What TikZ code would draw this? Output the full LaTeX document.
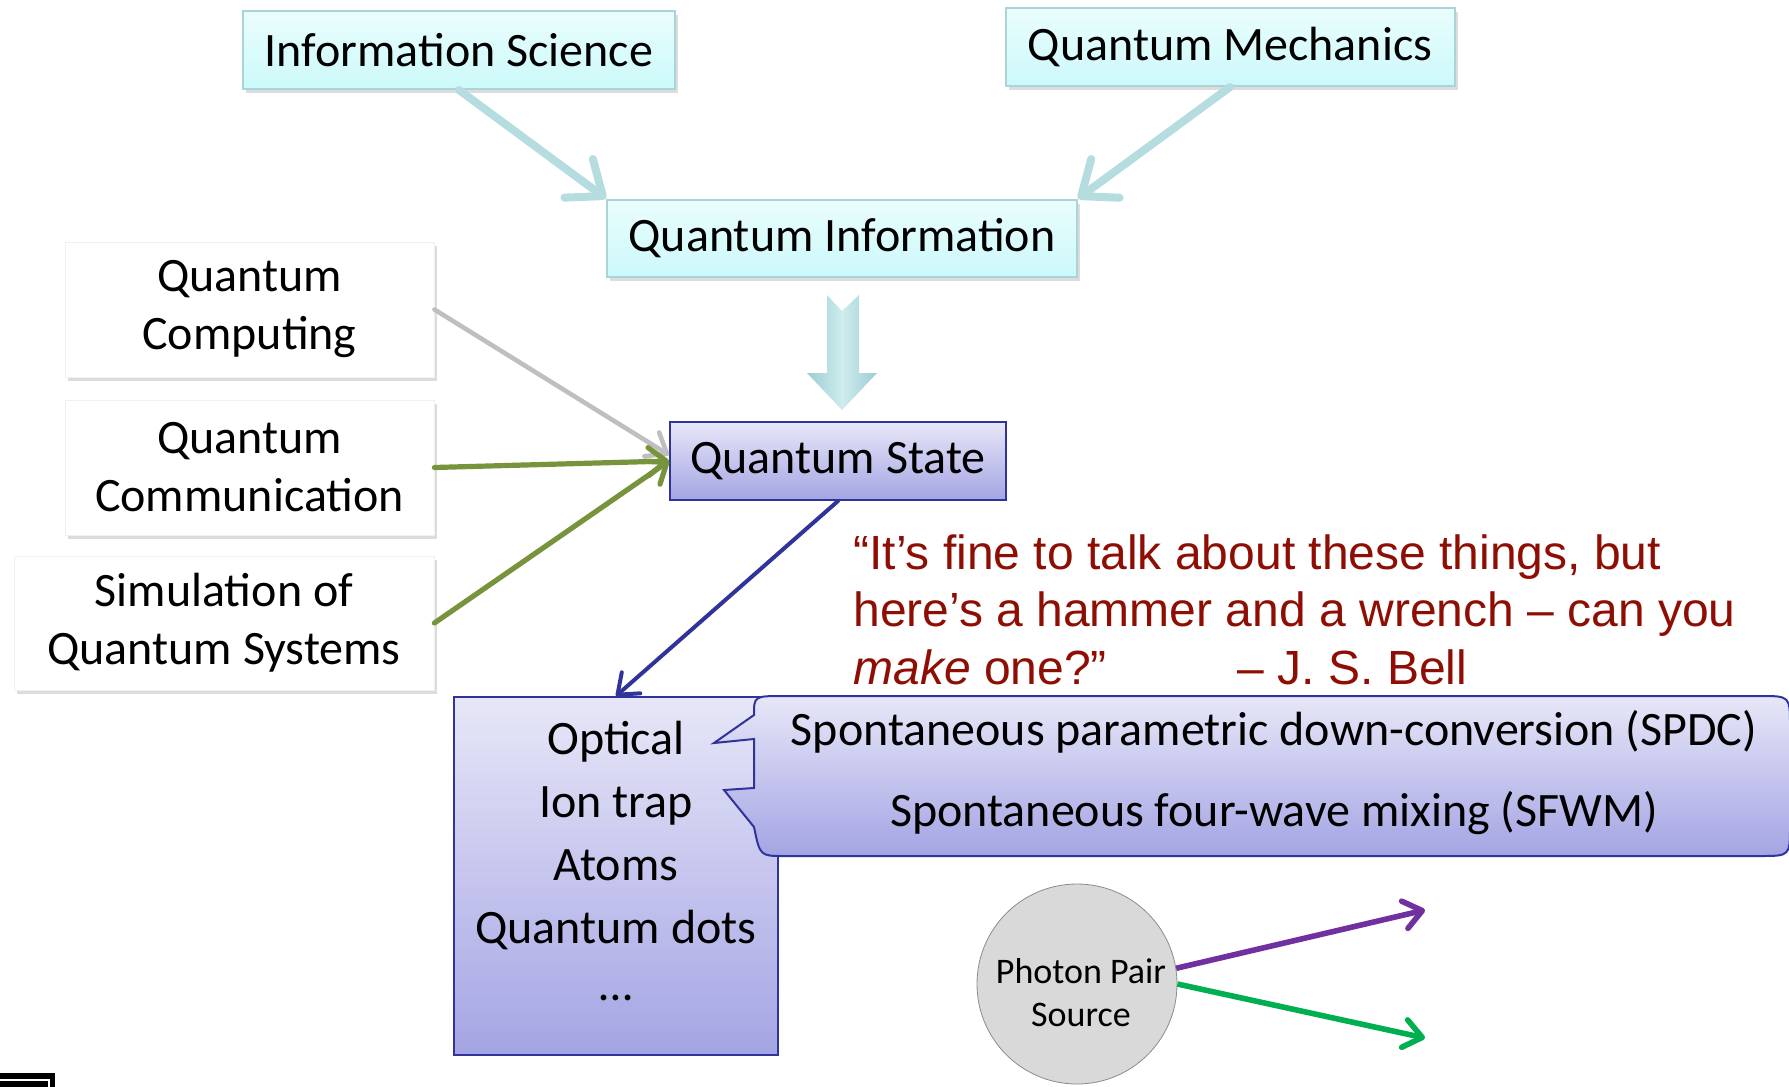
\documentclass[tikz,border=0pt]{standalone}
\usepackage{fontspec}
\setmainfont{Carlito}
\newfontfamily\quotefont{Liberation Sans}
\usepackage{tikz}
\usetikzlibrary{arrows.meta, shadows, positioning}
\definecolor{cyantop}{HTML}{EAFDFD}
\definecolor{cyanbot}{HTML}{CCF9FA}
\definecolor{cyanline}{HTML}{A9D5D9}
\definecolor{tealarrow}{HTML}{B5DCDF}
\definecolor{tealdark}{HTML}{9CCDD2}
\definecolor{teallight}{HTML}{CFECEE}
\definecolor{lavtop}{HTML}{E7E7F8}
\definecolor{lavbot}{HTML}{A4A4E4}
\definecolor{lavline}{HTML}{30339A}
\definecolor{quotered}{HTML}{8E0E04}
\definecolor{grayarrow}{HTML}{BFBFBF}
\definecolor{olivegreen}{HTML}{77933C}
\definecolor{pairpurple}{HTML}{7030A0}
\definecolor{pairgreen}{HTML}{00B050}
\definecolor{sourcegray}{HTML}{D9D9D9}

\begin{document}
\begin{tikzpicture}[x=0.5pt, y=-0.5pt]
		\tikzstyle{boxfont}=[font=\fontsize{24}{29}\selectfont]
		\tikzstyle{cyanbox}=[boxfont, draw=cyanline, line width=1pt, top color=cyantop, bottom color=cyanbot, minimum height=39pt, drop shadow={shadow xshift=1.5pt, shadow yshift=-2pt, opacity=.3, fill=black!45}]
		\tikzstyle{whitebox}=[boxfont, align=center, draw=black!6, fill=white, minimum width=184.5pt, minimum height=67.5pt, drop shadow={shadow xshift=1.5pt, shadow yshift=-2pt, opacity=.3, fill=black!45}]
		\tikzstyle{lavbox}=[draw=lavline, line width=1pt, top color=lavtop, bottom color=lavbot]
		\tikzstyle{feedarrow}=[line width=4pt, tealarrow, line cap=round, -{Straight Barb[round, length=15pt, width=24pt]}]
		\tikzstyle{thinarrow}=[line width=2.6pt, line cap=round, -{Straight Barb[round, length=9pt, width=14pt]}]
		\tikzstyle{pairarrow}=[line width=2.8pt, -{Straight Barb[round, length=9pt, width=14pt]}]
		
		\useasboundingbox (0,0) rectangle (1789,1087);
		
		\node [cyanbox, minimum width=216pt] (InfoSci) at (459,50) {Information Science};
		\node [cyanbox, minimum width=224.5pt] (QMech) at (1230,47) {Quantum Mechanics};
		\node [cyanbox, minimum width=235pt, minimum height=38.5pt] (QInfo) at (842,238) {Quantum Information};
		
		\draw [feedarrow] (InfoSci.south) -- (QInfo.north west);
		\draw [feedarrow] (QMech.south) -- (QInfo.north east);
		
		\node [whitebox] (QComp) at (249.5,309.5) {Quantum\\Computing};
		\node [whitebox] (QComm) at (249.5,467.5) {Quantum\\Communication};
		\node [whitebox, minimum width=210pt, minimum height=67pt] (QSim) at (224,623) {Simulation of\\Quantum Systems};
		
		\node [lavbox, boxfont, minimum width=168pt, minimum height=39pt] (QState) at (838,461) {Quantum State};
		
		%% block arrow from quantum information down to quantum state
		\path [draw=none, left color=tealdark, right color=tealdark, middle color=teallight]
			(827,295) -- (842,311) -- (859,295) -- (859,373) -- (877,373) -- (842,410) -- (807,373) -- (827,373) -- cycle;
		
		\draw [thinarrow, grayarrow, line width=2.3pt] (QComp.east) -- ([yshift=3pt]QState.west);
		\draw [thinarrow, olivegreen] (QComm.east) -- (QState.west);
		\draw [thinarrow, olivegreen] (QSim.east) -- (QState.west);
		
		\node [text=quotered, font=\quotefont\fontsize{24}{28.75}\selectfont, align=left, anchor=west, inner sep=0pt] (Quote) at (853,609.5)
			{“It’s fine to talk about these things, but\\here’s a hammer and a wrench – can you\\\textit{make} one?”\hspace*{65.5pt}– J. S. Bell};
		
		\node [lavbox, minimum width=162pt, minimum height=179pt] (Tech) at (616,876) {};
		\node [boxfont, align=center, font=\fontsize{24}{31.5}\selectfont] (TechList) at (616,861) {Optical\\Ion trap\\Atoms\\Quantum dots\\[-3pt]\textellipsis};
		\draw [thinarrow, lavline, line width=2pt] (QState.south) -- (Tech.north);
		
		%% callout with two pointers
		\path [lavbox, line width=1pt]
			(754,715) .. controls (754,696) .. (784,696) -- (1760,696) .. controls (1790,696) .. (1790,726) -- (1790,826)
			.. controls (1790,856) .. (1760,856) -- (784,856) .. controls (760,856) .. (754,827) -- (724,790) -- (754,788)
			-- (754,739) -- (714,743) -- cycle;
		\node [boxfont, align=center, font=\fontsize{24}{40.5}\selectfont] (Methods) at (1274,773)
			{Spontaneous parametric down-conversion (SPDC)\\Spontaneous four-wave mixing (SFWM)};
		
		\node [circle, draw=black!45, fill=sourcegray, minimum size=100pt, inner sep=0pt] (Photon) at (1077,984) {};
		\node [align=center, font=\fontsize{18}{21.5}\selectfont] (PhotonText) at (1081,993) {Photon Pair\\Source};
		\coordinate (PurpleEnd) at (1425,910);
		\coordinate (GreenEnd) at (1425,1038);
		\draw [pairarrow, pairpurple] (Photon.9) -- (PurpleEnd);
		\draw [pairarrow, pairgreen] (Photon.0) -- (GreenEnd);
		
		%% corner of an icon cut by the frame
		\fill [black] (0,1073) rectangle (55,1087);
		\draw [white, line width=0.8pt] (0,1080) -- (49,1080) -- (49,1087);
\end{tikzpicture}
\end{document}
